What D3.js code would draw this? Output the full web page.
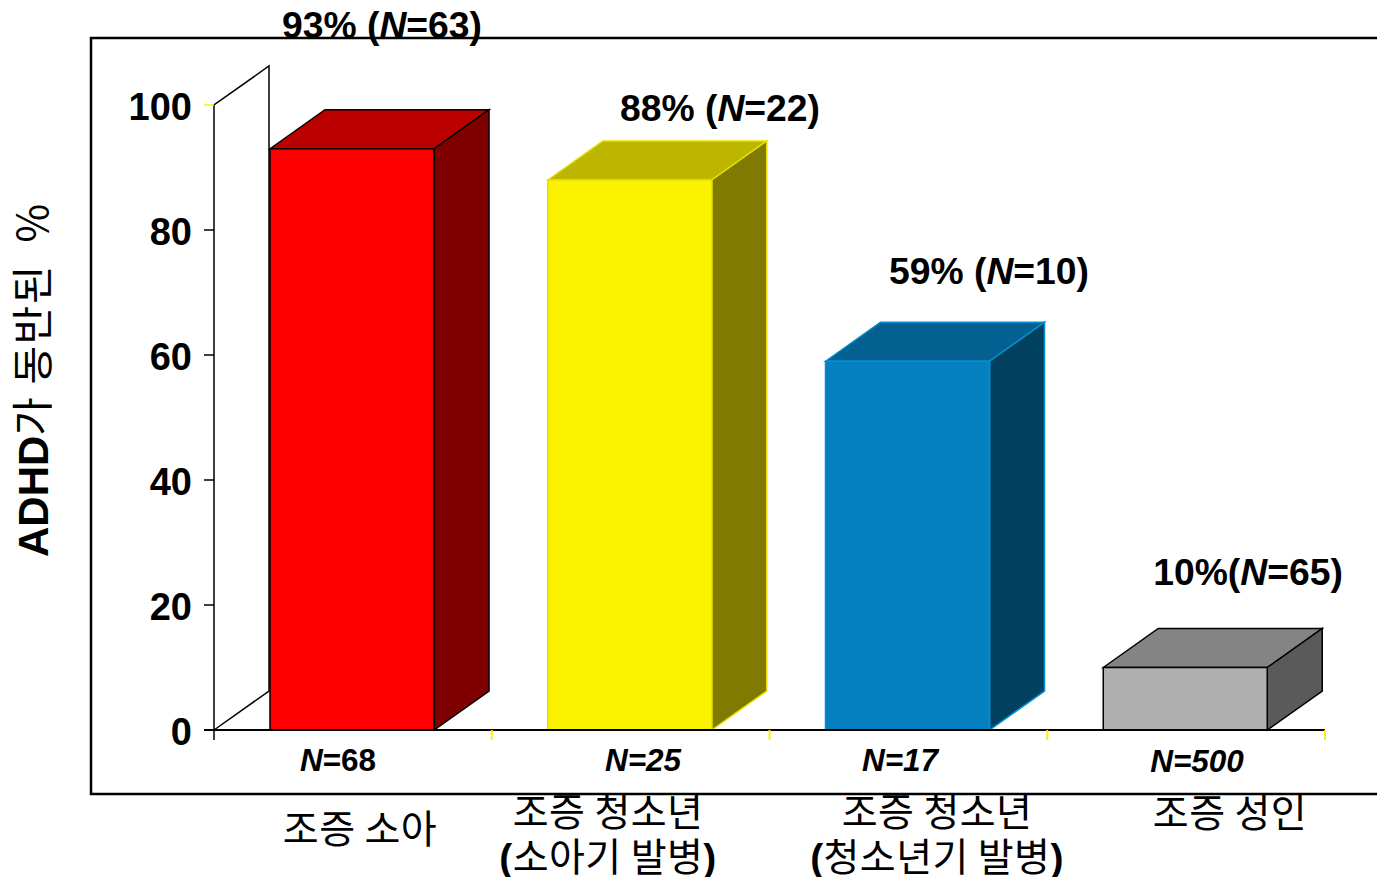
<!DOCTYPE html>
<html>
<head>
<meta charset="utf-8">
<script src="https://cdn.jsdelivr.net/npm/d3@7/dist/d3.min.js"></script>
<style>
html,body{margin:0;padding:0;background:#fff;overflow:hidden}
text{font-family:"Liberation Sans",Arial,sans-serif;fill:#000;white-space:pre}
.ko{font-family:"Noto Sans CJK KR","Liberation Sans",sans-serif;font-weight:400}
</style>
</head>
<body>
<svg id="chart" width="1377" height="877"></svg>
<script>
// Share of each group with comorbid ADHD
const groups = ["조증 소아", "조증 청소년 (소아기)", "조증 청소년 (청소년기)", "조증 성인"];
const percents = [93, 88, 59, 10];
const comorbidN = [63, 22, 10, 65];
const groupN = [68, 25, 17, 500];
const yTicks = [0, 20, 40, 60, 80, 100];
const categoryLines = [["조증 소아"], ["조증 청소년", "(소아기 발병)"], ["조증 청소년", "(청소년기 발병)"], ["조증 성인"]];
const frontColors = ["#ff0000", "#fbf200", "#0480c0", "#b0b0b0"];
const topColors = ["#bb0000", "#bdb600", "#036090", "#848484"];
const sideColors = ["#800000", "#807b00", "#024060", "#5a5a5a"];
const edgeColors = ["#000000", "#e8e000", "#0490d0", "#000000"];

const svg = d3.select("#chart");
const depthX = 56, depthY = 39, barW = 164;

const y = d3.scaleLinear().domain([0, 100]).range([730, 105]);
const x = d3.scaleBand().domain(groups).range([214, 1325]);

// Outer frame runs off the right side of the page
svg.append("rect").attr("x", 91).attr("y", 38).attr("width", 1400).attr("height", 756)
  .attr("fill", "#fff").attr("stroke", "#000").attr("stroke-width", 2.5);

// Back wall of the 3D plot area
const wall = svg.append("g").attr("fill", "none").attr("stroke", "#000").attr("stroke-width", 1.5);
wall.append("path").attr("d", d3.line()([
  [x.range()[0], y(0)], [x.range()[0], y(100)],
  [x.range()[0] + depthX - 1, y(100) - depthY], [x.range()[0] + depthX - 1, y(0) - depthY],
  [x.range()[0], y(0)]
]));

// Value axis with its yellow tick at the top
const yAxis = svg.append("g");
yAxis.selectAll("line").data(yTicks).join("line")
  .attr("x1", 204).attr("x2", 214)
  .attr("y1", d => y(d)).attr("y2", d => y(d))
  .attr("stroke", d => d === 100 ? "#fbf200" : "#000").attr("stroke-width", 1.5);
yAxis.selectAll("text").data(yTicks).join("text")
  .attr("x", 192).attr("y", d => y(d) + 1).attr("dy", "0.36em")
  .attr("text-anchor", "end").attr("font-size", 38).attr("font-weight", 700)
  .text(d => d);

// Extruded bars
const bars = svg.selectAll("g.bar").data(groups).join("g").attr("class", "bar");
bars.each(function (g, i) {
  const sel = d3.select(this);
  const x0 = x(g) + depthX, x1 = x0 + barW;
  const yTop = y(percents[i]), yBase = y(0);
  const poly = d3.line();
  sel.append("path").attr("d", poly([[x0, yTop], [x0 + depthX - 1, yTop - depthY], [x1 + depthX - 1, yTop - depthY], [x1, yTop]]) + "Z")
    .attr("fill", topColors[i]).attr("stroke", edgeColors[i]).attr("stroke-width", 1.5);
  sel.append("path").attr("d", poly([[x1, yTop], [x1 + depthX - 1, yTop - depthY], [x1 + depthX - 1, yBase - depthY], [x1, yBase]]) + "Z")
    .attr("fill", sideColors[i]).attr("stroke", edgeColors[i]).attr("stroke-width", 1.5);
  sel.append("rect").attr("x", x0).attr("y", yTop).attr("width", barW).attr("height", yBase - yTop)
    .attr("fill", frontColors[i]).attr("stroke", edgeColors[i]).attr("stroke-width", 1.5);
});

// Baseline and category ticks
svg.append("line").attr("x1", 204).attr("x2", 1325).attr("y1", y(0)).attr("y2", y(0))
  .attr("stroke", "#000").attr("stroke-width", 2);
svg.append("line").attr("x1", 214).attr("x2", 214).attr("y1", y(0)).attr("y2", y(0) + 10)
  .attr("stroke", "#000").attr("stroke-width", 1.5);
svg.selectAll("line.tick").data(groups).join("line").attr("class", "tick")
  .attr("x1", g => x(g) + x.bandwidth()).attr("x2", g => x(g) + x.bandwidth())
  .attr("y1", y(0)).attr("y2", y(0) + 10)
  .attr("stroke", "#fbf200").attr("stroke-width", 2);

// Percentage labels above each bar
const pctX = [382, 720, 989, 1248];
const pctY = [25, 108, 271, 572];
const pctLabel = svg.append("g");
percents.forEach((p, i) => {
  const t = pctLabel.append("text").attr("x", pctX[i]).attr("y", pctY[i]).attr("dy", "0.36em")
    .attr("text-anchor", "middle").attr("font-size", 37.3).attr("font-weight", 700);
  t.append("tspan").text(i === 3 ? `${p}%(` : `${p}% (`);
  t.append("tspan").attr("font-style", "italic").text("N");
  t.append("tspan").text(`=${comorbidN[i]})`);
});

// Group sizes under the axis
const nX = [338, 643, 900, 1197];
const nY = [760, 760, 760, 761];
groupN.forEach((n, i) => {
  const t = svg.append("text").attr("x", nX[i]).attr("y", nY[i]).attr("dy", "0.36em")
    .attr("text-anchor", "middle").attr("font-size", 31.5).attr("font-weight", 700)
    .attr("font-style", i === 0 ? "normal" : "italic");
  t.append("tspan").attr("font-style", "italic").text("N");
  t.append("tspan").text(`=${n}`);
});

// Category names below the frame
const catX = [360, 608, 937, 1230];
const catY = [[829], [812, 857], [812, 857], [813]];
categoryLines.forEach((lines, i) => {
  lines.forEach((line, j) => {
    const t = svg.append("text").attr("x", catX[i]).attr("y", catY[i][j]).attr("dy", "0.36em")
      .attr("text-anchor", "middle").attr("class", "ko").attr("font-size", 39).attr("letter-spacing", 0.4);
    const m = line.match(/^(\()(.*)(\))$/);
    if (m) {
      t.append("tspan").attr("style", "font-family:'Liberation Sans';font-weight:700").text("(");
      t.append("tspan").text(m[2]);
      t.append("tspan").attr("style", "font-family:'Liberation Sans';font-weight:700").text(")");
    } else {
      t.text(line);
    }
  });
});

// Rotated value-axis title, anchored at its lower end
const yTitle = svg.append("text").attr("transform", "translate(33,557) rotate(-90)")
  .attr("dy", "0.36em").attr("text-anchor", "start").attr("font-size", 42);
yTitle.append("tspan").attr("font-weight", 700).text("ADHD");
yTitle.append("tspan").attr("class", "ko").attr("letter-spacing", 1.5).text("가 동반된  %");
</script>
</body>
</html>
